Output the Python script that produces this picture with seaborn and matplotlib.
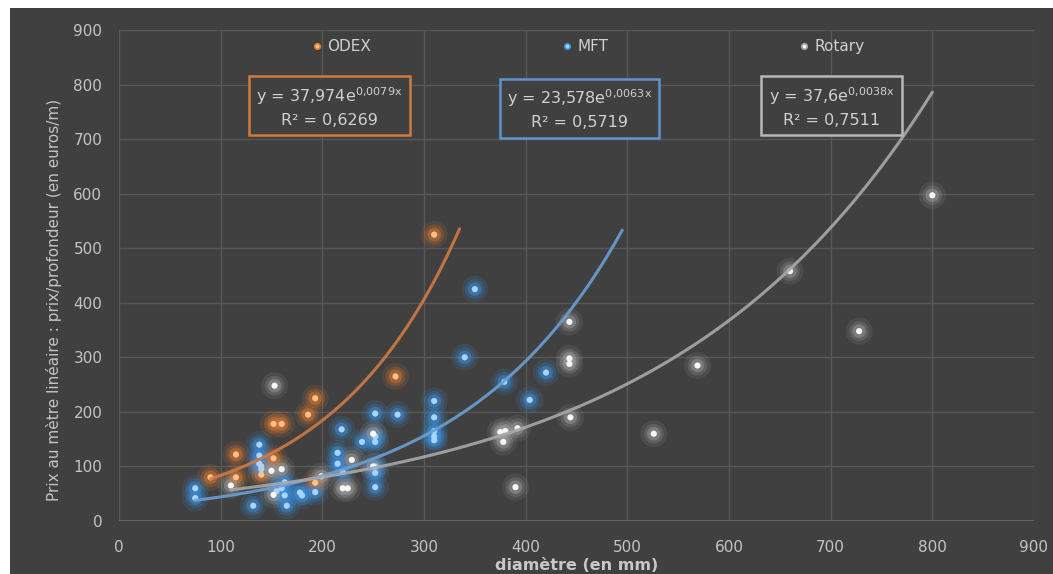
import numpy as np
import pandas as pd
import matplotlib
matplotlib.use("Agg")
import matplotlib.pyplot as plt
import seaborn as sns
from matplotlib.patches import Rectangle

# --- data -----------------------------------------------------------------
series = ["ODEX", "MFT", "Rotary"]

odex_x = [90, 115, 115, 140, 140, 152, 152, 160, 186, 193, 193, 272, 310]
odex_y = [80, 122, 80, 85, 100, 115, 178, 178, 195, 225, 70, 265, 525]

mft_x = [75, 75, 132, 138, 138, 138, 140, 155, 160, 163, 163, 165, 178, 180,
         193, 215, 215, 219, 220, 239, 252, 252, 252, 252, 252, 252, 274, 310,
         310, 310, 310, 310, 340, 350, 379, 404, 420]
mft_y = [60, 42, 28, 140, 120, 105, 95, 55, 60, 71, 47, 28, 52, 47,
         53, 125, 105, 168, 90, 145, 197, 155, 145, 100, 88, 62, 195, 220,
         190, 165, 155, 148, 300, 425, 255, 222, 272]

rot_x = [110, 150, 152, 153, 160, 199, 220, 225, 229, 250, 250, 375, 378, 380,
         390, 392, 443, 443, 443, 444, 526, 569, 660, 728, 800]
rot_y = [65, 92, 48, 248, 95, 82, 60, 60, 112, 160, 100, 163, 145, 165,
         62, 170, 365, 298, 288, 190, 160, 285, 458, 348, 597]

# exponential trend lines y = a * exp(b x)
trend_a = [37.974, 23.578, 37.6]
trend_b = [0.0079, 0.0063, 0.0038]
trend_a_txt = ["37,974", "23,578", "37,6"]
trend_b_txt = ["0,0079", "0,0063", "0,0038"]
trend_r2_txt = ["0,6269", "0,5719", "0,7511"]
trend_x_start = [90, 75, 110]
trend_x_end = [335, 495, 800]

x_ticks = [0, 100, 200, 300, 400, 500, 600, 700, 800, 900]
y_ticks = [0, 100, 200, 300, 400, 500, 600, 700, 800, 900]

# --- style ----------------------------------------------------------------
sns.set_theme(style="dark")
plt.rcParams["font.family"] = ["Liberation Sans Narrow", "DejaVu Sans"]

BG = "#404040"
GRID = "#585858"
TXT = "#d0d0d0"
halo = {"ODEX": "#e07a30", "MFT": "#3a90e0", "Rotary": "#a0a0a0"}
core = {"ODEX": "#ffbf88", "MFT": "#a8d4ff", "Rotary": "#f6f6f6"}
line_c = {"ODEX": "#cf7a45", "MFT": "#6a9fd4", "Rotary": "#a8a8a8"}
box_c = {"ODEX": "#d07a3e", "MFT": "#5e95cc", "Rotary": "#b8b8b8"}

df = pd.concat([
    pd.DataFrame({"d": odex_x, "p": odex_y, "s": "ODEX"}),
    pd.DataFrame({"d": mft_x, "p": mft_y, "s": "MFT"}),
    pd.DataFrame({"d": rot_x, "p": rot_y, "s": "Rotary"}),
], ignore_index=True)

W, H = 1053, 574
fig = plt.figure(figsize=(W / 100, H / 100), dpi=100, facecolor="white")
fig.patches.append(Rectangle((10 / W, 0), 1 - 10 / W, 1 - 8 / H,
                             transform=fig.transFigure, facecolor=BG,
                             edgecolor="none", zorder=-10))
ax = fig.add_axes([119 / W, 1 - 521 / H, 915 / W, 491 / H])
ax.set_facecolor(BG)
ax.patch.set_alpha(0)

# glowing markers: soft coloured halo, then a bright core
for size, alpha in [(380, 0.13), (200, 0.22), (95, 0.45)]:
    sns.scatterplot(data=df, x="d", y="p", hue="s", hue_order=series,
                    palette=halo, s=size, alpha=alpha, linewidth=0,
                    legend=False, ax=ax, zorder=3)
sns.scatterplot(data=df, x="d", y="p", hue="s", hue_order=series,
                palette=core, s=20, linewidth=0, legend=False, ax=ax, zorder=4)

# trend lines and equation boxes
box_pos = [(207, 759), (453, 755), (701, 759)]
for i, name in enumerate(series):
    xs = np.linspace(trend_x_start[i], trend_x_end[i], 200)
    ys = trend_a[i] * np.exp(trend_b[i] * xs)
    sns.lineplot(x=xs, y=ys, color=line_c[name], linewidth=2.2, ax=ax,
                 zorder=5, alpha=0.9)
    b = trend_b_txt[i].replace(",", "{,}")
    label = (f"y = {trend_a_txt[i]}e$^{{\\mathregular{{{b}x}}}}$\n"
             f"R² = {trend_r2_txt[i]}")
    ax.text(box_pos[i][0], box_pos[i][1], label, ha="center", va="center",
            color=TXT, fontsize=11.5, linespacing=1.5, zorder=6,
            bbox=dict(boxstyle="square,pad=0.45", facecolor=BG,
                      edgecolor=box_c[name], linewidth=1.8))

# legend along the top
handles = [plt.Line2D([], [], marker="o", linestyle="none", markersize=4,
                      markerfacecolor=core[n], markeredgecolor=halo[n],
                      markeredgewidth=1.2) for n in series]
leg = ax.legend(handles, series, loc="center", bbox_to_anchor=(0.513, 0.966),
                ncol=3, frameon=False, fontsize=11, handlelength=0.6,
                handletextpad=0.4, columnspacing=12.5)
for t in leg.get_texts():
    t.set_color(TXT)

# axes
ax.set_xlim(0, 900)
ax.set_ylim(0, 900)
ax.set_xticks(x_ticks)
ax.set_yticks(y_ticks)
ax.grid(True, color=GRID, linewidth=1.0)
ax.set_axisbelow(True)
for sp in ax.spines.values():
    sp.set_visible(False)
ax.axhline(0, color="#6a6a6a", linewidth=1.2, zorder=1)
ax.tick_params(axis="both", length=0, colors="#c4c4c4", labelsize=11)
ax.tick_params(axis="x", pad=14)
ax.tick_params(axis="y", pad=12)

ax.set_xlabel("diamètre (en mm)", color="#c8c8c8", fontsize=11.5,
              fontweight="bold", labelpad=0)
ax.xaxis.set_label_coords(0.5, -0.075)
ax.set_ylabel("Prix au mètre linéaire : prix/profondeur (en euros/m)",
              color="#c4c4c4", fontsize=11, family=["DejaVu Sans"],
              labelpad=18)
ax.yaxis.set_label_coords(-0.062, 0.45)

fig.savefig("out.png", dpi=100, facecolor=fig.get_facecolor())
